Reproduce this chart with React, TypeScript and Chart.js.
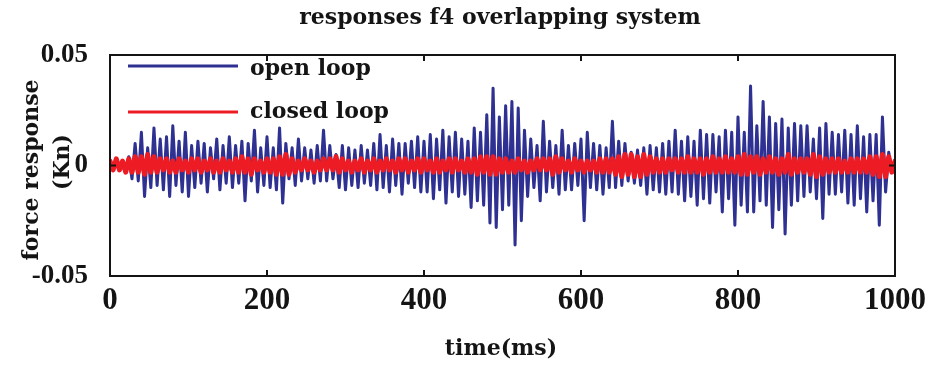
import React, { useEffect, useRef } from "react";
import { Chart, registerables } from "chart.js";

Chart.register(...registerables);

// Force response sampled every 4 ms from 0 to 1000 ms (values in Kn)
const SAMPLE_MS = 4;

const openLoop = [
  0.001, -0.002, 0.002, -0.001, 0.002, -0.003, 0.004, -0.006, 0.010, -0.007,
  0.015, -0.014, 0.008, -0.010, 0.017, -0.009, 0.012, -0.011, 0.013, -0.014,
  0.018, -0.009, 0.011, -0.012, 0.015, -0.014, 0.009, -0.010, 0.011, -0.008,
  0.010, -0.012, 0.008, -0.006, 0.012, -0.011, 0.009, -0.008, 0.013, -0.010,
  0.009, -0.008, 0.011, -0.016, 0.010, -0.007, 0.016, -0.012, 0.008, -0.009,
  0.013, -0.010, 0.008, -0.011, 0.017, -0.017, 0.010, -0.006, 0.008, -0.009,
  0.012, -0.007, 0.008, -0.006, 0.007, -0.008, 0.009, -0.007, 0.016, -0.007,
  0.009, -0.006, 0.005, -0.010, 0.009, -0.011, 0.008, -0.009, 0.007, -0.010,
  0.009, -0.008, 0.007, -0.009, 0.010, -0.011, 0.014, -0.010, 0.009, -0.012,
  0.012, -0.009, 0.010, -0.013, 0.010, -0.008, 0.011, -0.010, 0.013, -0.012,
  0.011, -0.012, 0.014, -0.015, 0.012, -0.011, 0.016, -0.017, 0.013, -0.012,
  0.015, -0.014, 0.012, -0.013, 0.011, -0.019, 0.017, -0.016, 0.015, -0.018,
  0.023, -0.026, 0.035, -0.028, 0.022, -0.020, 0.027, -0.018, 0.029, -0.036,
  0.026, -0.025, 0.016, -0.014, 0.012, -0.010, 0.009, -0.016, 0.020, -0.012,
  0.011, -0.010, 0.009, -0.013, 0.016, -0.011, 0.009, -0.011, 0.010, -0.009,
  0.012, -0.025, 0.015, -0.010, 0.010, -0.011, 0.009, -0.013, 0.008, -0.010,
  0.020, -0.010, 0.011, -0.009, 0.010, -0.007, 0.006, -0.008, 0.007, -0.009,
  0.008, -0.013, 0.009, -0.011, 0.008, -0.012, 0.010, -0.013, 0.011, -0.012,
  0.016, -0.013, 0.011, -0.016, 0.013, -0.014, 0.011, -0.018, 0.016, -0.015,
  0.014, -0.017, 0.014, -0.012, 0.013, -0.021, 0.016, -0.015, 0.015, -0.027,
  0.022, -0.018, 0.015, -0.021, 0.036, -0.021, 0.018, -0.016, 0.029, -0.018,
  0.022, -0.028, 0.019, -0.020, 0.021, -0.031, 0.017, -0.018, 0.019, -0.016,
  0.018, -0.014, 0.018, -0.012, 0.012, -0.015, 0.017, -0.024, 0.019, -0.013,
  0.015, -0.013, 0.014, -0.012, 0.016, -0.017, 0.014, -0.018, 0.018, -0.015,
  0.013, -0.021, 0.014, -0.016, 0.014, -0.027, 0.022, -0.012, 0.006, -0.003,
  0.001,
];

const closedLoop = [
  0.002, -0.002, 0.003, -0.002, 0.002, -0.003, 0.003, -0.003, 0.004, -0.003,
  0.004, -0.004, 0.005, -0.003, 0.004, -0.003, 0.003, -0.002, 0.003, -0.003,
  0.002, -0.003, 0.003, -0.002, 0.002, -0.003, 0.003, -0.002, 0.003, -0.003,
  0.002, -0.002, 0.003, -0.003, 0.002, -0.003, 0.003, -0.002, 0.002, -0.003,
  0.003, -0.003, 0.004, -0.003, 0.003, -0.004, 0.003, -0.002, 0.002, -0.003,
  0.003, -0.003, 0.003, -0.004, 0.004, -0.004, 0.005, -0.004, 0.003, -0.003,
  0.002, -0.002, 0.003, -0.002, 0.002, -0.003, 0.002, -0.002, 0.003, -0.002,
  0.003, -0.002, 0.004, -0.003, 0.003, -0.002, 0.002, -0.003, 0.002, -0.002,
  0.003, -0.003, 0.002, -0.002, 0.003, -0.003, 0.002, -0.002, 0.003, -0.002,
  0.002, -0.003, 0.003, -0.002, 0.003, -0.003, 0.002, -0.002, 0.003, -0.003,
  0.003, -0.002, 0.002, -0.003, 0.003, -0.003, 0.002, -0.002, 0.003, -0.003,
  0.003, -0.002, 0.002, -0.003, 0.003, -0.003, 0.003, -0.004, 0.004, -0.003,
  0.004, -0.004, 0.004, -0.004, 0.003, -0.003, 0.003, -0.003, 0.002, -0.003,
  0.003, -0.002, 0.002, -0.003, 0.002, -0.002, 0.003, -0.002, 0.003, -0.002,
  0.003, -0.004, 0.004, -0.003, 0.003, -0.002, 0.002, -0.003, 0.003, -0.002,
  0.002, -0.003, 0.002, -0.002, 0.002, -0.003, 0.003, -0.003, 0.003, -0.003,
  0.003, -0.004, 0.004, -0.005, 0.005, -0.004, 0.005, -0.005, 0.004, -0.005,
  0.005, -0.004, 0.004, -0.003, 0.003, -0.003, 0.003, -0.003, 0.003, -0.002,
  0.003, -0.003, 0.003, -0.003, 0.004, -0.003, 0.003, -0.003, 0.003, -0.004,
  0.003, -0.003, 0.004, -0.003, 0.003, -0.003, 0.004, -0.003, 0.003, -0.003,
  0.004, -0.004, 0.005, -0.004, 0.004, -0.003, 0.004, -0.004, 0.003, -0.003,
  0.004, -0.003, 0.003, -0.004, 0.003, -0.003, 0.005, -0.004, 0.003, -0.003,
  0.003, -0.003, 0.003, -0.004, 0.005, -0.005, 0.004, -0.004, 0.003, -0.003,
  0.003, -0.003, 0.003, -0.003, 0.002, -0.003, 0.003, -0.003, 0.003, -0.003,
  0.003, -0.003, 0.004, -0.004, 0.004, -0.005, 0.005, -0.005, 0.004, -0.003,
  0.002,
];

const xTickValues = [0, 200, 400, 600, 800, 1000];
const yTickValues = [-0.05, 0, 0.05];

const TITLE = "responses f4 overlapping system";
const X_LABEL = "time(ms)";
const Y_LABEL_LINES = ["force response", "(Kn)"];
const OPEN_LABEL = "open loop";
const CLOSED_LABEL = "closed loop";

const BLUE = "#2e3192";
const RED = "#ed1c24";
const INK = "#141414";
const TICK_FONT = "'Liberation Serif', 'Times New Roman', serif";
const TEXT_FONT = "'DejaVu Serif', 'Liberation Serif', serif";

const toPoints = (values: number[]) =>
  values.map((v, i) => ({ x: i * SAMPLE_MS, y: v }));

// Frame, inward tick marks, in-plot legend and the chart's titles
const decorations = {
  id: "decorations",
  afterDraw(chart: any) {
    const { ctx, chartArea, scales } = chart;
    const { left, right, top, bottom } = chartArea;
    const tick = 6;
    ctx.save();

    ctx.strokeStyle = INK;
    ctx.lineWidth = 2;
    ctx.strokeRect(left, top, right - left, bottom - top);

    ctx.beginPath();
    xTickValues.forEach((v) => {
      const x = scales.x.getPixelForValue(v);
      ctx.moveTo(x, bottom);
      ctx.lineTo(x, bottom - tick);
      ctx.moveTo(x, top);
      ctx.lineTo(x, top + tick);
    });
    yTickValues.forEach((v) => {
      const y = scales.y.getPixelForValue(v);
      ctx.moveTo(left, y);
      ctx.lineTo(left + tick, y);
      ctx.moveTo(right, y);
      ctx.lineTo(right - tick, y);
    });
    ctx.stroke();

    // legend
    ctx.lineWidth = 3;
    ctx.strokeStyle = BLUE;
    ctx.beginPath();
    ctx.moveTo(left + 18, top + 11);
    ctx.lineTo(left + 128, top + 11);
    ctx.stroke();
    ctx.strokeStyle = RED;
    ctx.beginPath();
    ctx.moveTo(left + 18, top + 57);
    ctx.lineTo(left + 128, top + 57);
    ctx.stroke();

    ctx.fillStyle = INK;
    ctx.font = `bold 22px ${TEXT_FONT}`;
    ctx.textAlign = "left";
    ctx.textBaseline = "middle";
    ctx.fillText(OPEN_LABEL, left + 140, top + 14);
    ctx.fillText(CLOSED_LABEL, left + 140, top + 57);

    // title
    ctx.textAlign = "center";
    ctx.font = `bold 22px ${TEXT_FONT}`;
    ctx.fillText(TITLE, 500, 18);

    // x label
    ctx.fillText(X_LABEL, 501, 349);

    // y label, two rotated lines
    ctx.save();
    ctx.translate(32, 170);
    ctx.rotate(-Math.PI / 2);
    ctx.fillText(Y_LABEL_LINES[0], 0, 0);
    ctx.restore();
    ctx.save();
    ctx.translate(63, 162);
    ctx.rotate(-Math.PI / 2);
    ctx.fillText(Y_LABEL_LINES[1], 0, 0);
    ctx.restore();

    ctx.restore();
  },
};

export default function App() {
  const canvasRef = useRef<HTMLCanvasElement | null>(null);

  useEffect(() => {
    const canvas = canvasRef.current;
    if (!canvas) return;
    const chart = new Chart(canvas, {
      type: "line",
      data: {
        datasets: [
          {
            label: CLOSED_LABEL,
            data: toPoints(closedLoop),
            borderColor: RED,
            borderWidth: 5,
            borderJoinStyle: "round",
            borderCapStyle: "round",
            pointRadius: 0,
            tension: 0,
            fill: false,
          },
          {
            label: OPEN_LABEL,
            data: toPoints(openLoop),
            borderColor: BLUE,
            borderWidth: 3,
            borderJoinStyle: "round",
            borderCapStyle: "round",
            pointRadius: 0,
            tension: 0,
            fill: false,
          },
        ],
      },
      options: {
        animation: false,
        responsive: false,
        maintainAspectRatio: false,
        events: [],
        layout: { padding: { left: 0, right: 37, top: 55, bottom: 0 } },
        plugins: {
          legend: { display: false },
          title: { display: false },
          tooltip: { enabled: false },
        },
        scales: {
          x: {
            type: "linear",
            min: 0,
            max: 1000,
            afterBuildTicks: (s: any) => {
              s.ticks = xTickValues.map((value) => ({ value }));
            },
            afterFit: (s: any) => {
              s.height = 95;
            },
            grid: { display: false, drawTicks: false },
            border: { display: false },
            ticks: {
              color: INK,
              padding: 6,
              maxRotation: 0,
              autoSkip: false,
              font: { family: TICK_FONT, size: 31, weight: "bold" },
              callback: (v: any) => String(v),
            },
          },
          y: {
            type: "linear",
            min: -0.05,
            max: 0.05,
            afterBuildTicks: (s: any) => {
              s.ticks = yTickValues.map((value) => ({ value }));
            },
            afterFit: (s: any) => {
              s.width = 110;
            },
            grid: { display: false, drawTicks: false },
            border: { display: false },
            ticks: {
              color: INK,
              padding: 22,
              autoSkip: false,
              font: { family: TICK_FONT, size: 27, weight: "bold" },
              callback: (v: any) => (Number(v) === 0 ? "0" : Number(v).toFixed(2)),
            },
          },
        },
      },
      plugins: [decorations],
    });
    return () => chart.destroy();
  }, []);

  return (
    <div
      style={{
        position: "fixed",
        left: 0,
        top: 0,
        width: 932,
        height: 371,
        background: "#fff",
      }}
    >
      <canvas ref={canvasRef} width={932} height={371} style={{ display: "block" }} />
    </div>
  );
}
